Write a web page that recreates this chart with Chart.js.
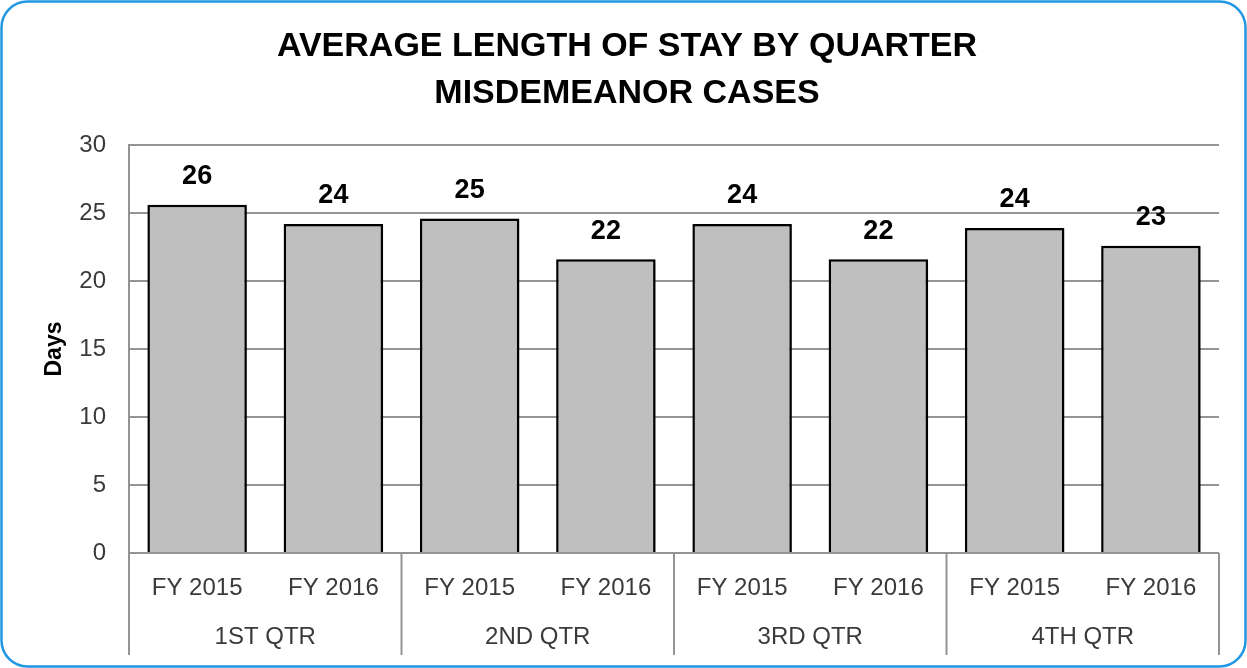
<!DOCTYPE html>
<html>
<head>
<meta charset="utf-8">
<script src="https://cdn.jsdelivr.net/npm/chart.js@4.4.0/dist/chart.umd.min.js"></script>
<style>
html,body{margin:0;padding:0;background:#fff;}
#wrap{position:absolute;left:0;top:0;width:1247px;height:668px;}
</style>
</head>
<body>
<div id="wrap"><canvas id="c" width="1247" height="668"></canvas></div>
<script>
const categories = ["FY 2015","FY 2016","FY 2015","FY 2016","FY 2015","FY 2016","FY 2015","FY 2016"];
const quarters = ["1ST QTR","2ND QTR","3RD QTR","4TH QTR"];
const values = [25.6, 24.2, 24.6, 21.6, 24.2, 21.6, 23.9, 22.6];
const yTicks = [0,5,10,15,20,25,30];
const titleLines = ["AVERAGE LENGTH OF STAY BY QUARTER","MISDEMEANOR CASES"];

const FONT = "'Liberation Sans', Arial, sans-serif";
const GRID = "#949494";

const framePlugin = {
  id: 'frame',
  beforeDraw(chart) {
    const ctx = chart.ctx;
    ctx.save();
    ctx.fillStyle = '#fff';
    ctx.fillRect(0,0,chart.width,chart.height);
    ctx.restore();
  },
  afterDraw(chart) {
    const ctx = chart.ctx;
    ctx.save();
    ctx.strokeStyle = '#2196e3';
    ctx.lineWidth = 2.5;
    ctx.beginPath();
    ctx.roundRect(1.5, 1.5, chart.width - 3, chart.height - 3, 26);
    ctx.stroke();
    ctx.restore();
  }
};

const groupPlugin = {
  id: 'groups',
  afterDraw(chart) {
    const ctx = chart.ctx;
    const x = chart.scales.x;
    const area = chart.chartArea;
    const bottom = area.bottom + 102;
    ctx.save();
    ctx.strokeStyle = GRID;
    ctx.lineWidth = 2;
    const bounds = [area.left];
    for (let q = 1; q < quarters.length; q++) {
      bounds.push((x.getPixelForValue(2*q - 1) + x.getPixelForValue(2*q)) / 2);
    }
    bounds.push(area.right);
    bounds.forEach(b => {
      ctx.beginPath();
      ctx.moveTo(b, area.bottom);
      ctx.lineTo(b, bottom);
      ctx.stroke();
    });
    ctx.fillStyle = '#3a3a3a';
    ctx.font = "24px " + FONT;
    ctx.textAlign = 'center';
    ctx.textBaseline = 'middle';
    quarters.forEach((q, i) => {
      const cx = (x.getPixelForValue(2*i) + x.getPixelForValue(2*i+1)) / 2;
      ctx.fillText(q, cx, area.bottom + 84);
    });
    ctx.restore();
  }
};

const labelPlugin = {
  id: 'vlabels',
  afterDatasetsDraw(chart) {
    const ctx = chart.ctx;
    const meta = chart.getDatasetMeta(0);
    ctx.save();
    ctx.fillStyle = '#000';
    ctx.font = "bold 27px " + FONT;
    ctx.textAlign = 'center';
    ctx.textBaseline = 'middle';
    meta.data.forEach((el, i) => {
      ctx.fillText(String(Math.round(values[i])), el.x, el.y - 28);
    });
    ctx.restore();
  }
};

const shadowPlugin = {
  id: 'shadow',
  beforeDatasetDraw(chart) {
    const ctx = chart.ctx;
    ctx.save();
    ctx.shadowColor = 'rgba(0,0,0,0.35)';
    ctx.shadowBlur = 3;
    ctx.shadowOffsetX = 2;
    ctx.shadowOffsetY = 1;
  },
  afterDatasetDraw(chart) {
    chart.ctx.restore();
  }
};

new Chart(document.getElementById('c'), {
  type: 'bar',
  data: {
    labels: categories,
    datasets: [{
      data: values,
      backgroundColor: '#bfbfbf',
      borderColor: '#000',
      borderWidth: 2.5,
      barPercentage: 0.73,
      categoryPercentage: 1.0
    }]
  },
  options: {
    responsive: false,
    animation: false,
    layout: { padding: { left: 35, right: 28, top: 0, bottom: 0 } },
    plugins: {
      legend: { display: false },
      tooltip: { enabled: false },
      title: {
        display: true,
        text: titleLines,
        color: '#000',
        font: { family: FONT, size: 34, weight: 'bold', lineHeight: 1.38 },
        padding: { top: 23, bottom: 28.2 }
      }
    },
    scales: {
      x: {
        grid: { display: false, drawTicks: false },
        border: { display: false },
        ticks: { color: '#3a3a3a', font: { family: FONT, size: 24 }, padding: 21, maxRotation: 0, autoSkip: false },
        afterFit(s) { s.height = 115; }
      },
      y: {
        min: 0, max: 30,
        afterBuildTicks(s) { s.ticks = yTicks.map(v => ({ value: v })); },
        grid: { color: GRID, lineWidth: 2, drawTicks: false },
        border: { display: true, color: GRID, width: 2 },
        ticks: { color: '#3a3a3a', font: { family: FONT, size: 24 }, padding: 23 },
        title: { display: true, text: 'Days', color: '#000', font: { family: FONT, size: 23, weight: 'bold' }, padding: { top: 6, bottom: 0 } },
        afterFit(s) { s.width = 94; }
      }
    }
  },
  plugins: [framePlugin, shadowPlugin, labelPlugin, groupPlugin]
});
</script>
</body>
</html>
